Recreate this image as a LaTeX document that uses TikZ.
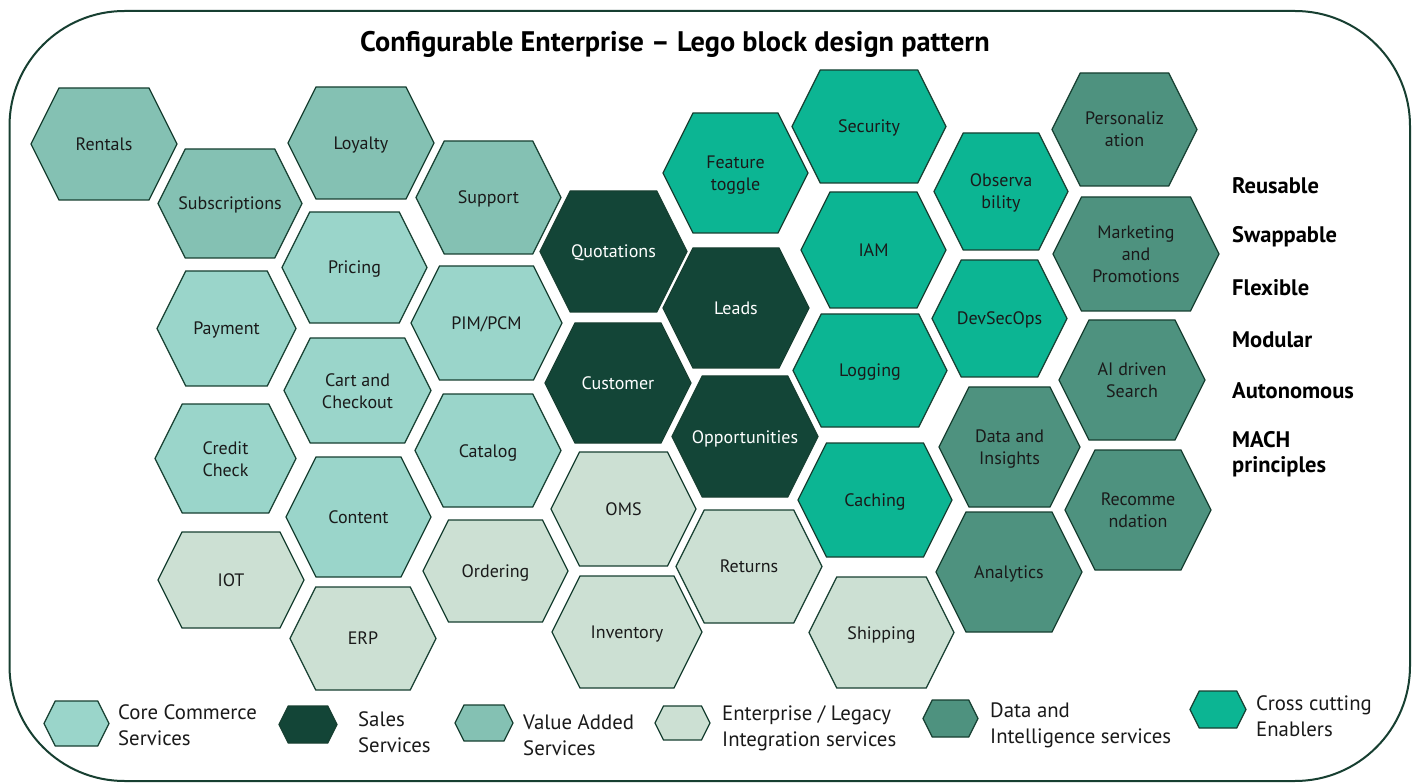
\documentclass[tikz,border=0pt]{standalone}
\usepackage{fontspec}
\setmainfont{PT Sans}
\definecolor{strk}{HTML}{173F31}
\definecolor{cva}{HTML}{84C1B3}
\definecolor{ccc}{HTML}{9AD5CA}
\definecolor{csal}{HTML}{134537}
\definecolor{cent}{HTML}{CCE0D3}
\definecolor{cdi}{HTML}{4E927F}
\definecolor{ccx}{HTML}{0CB593}
\definecolor{txt}{HTML}{1A1A1A}
\tikzset{
  hexshape/.style={draw=strk, line width=1.3pt, line join=miter},
  hextxt/.style={align=center, inner sep=0pt, yshift=-2pt, font=\fontsize{18}{22}\selectfont},
  sidetxt/.style={anchor=west, align=left, inner sep=0pt, font=\fontsize{22.5}{25}\selectfont\bfseries, text=black},
  legtxt/.style={anchor=west, align=left, inner sep=0pt, font=\fontsize{20.8}{26}\selectfont, text=txt},
}
% optional text colour, name, cx, cy, w, h, fill, text
\newcommand\hexcell[8][txt]{%
  \filldraw[hexshape, fill=#7]
    ({#3-#5/2},#4) -- ({#3-#5/2+#6/4},{#4-#6/2}) -- ({#3+#5/2-#6/4},{#4-#6/2}) --
    ({#3+#5/2},#4) -- ({#3+#5/2-#6/4},{#4+#6/2}) -- ({#3-#5/2+#6/4},{#4+#6/2}) -- cycle;
  \node[hextxt, text=#1] (#2) at (#3,#4) {#8\vphantom{g}};}
\begin{document}
\begin{tikzpicture}[x=1pt,y=-1pt]
\useasboundingbox (0,0) rectangle (1416,783);
\fill[white] (0,0) rectangle (1416,783);
\draw[strk, line width=2pt, rounded corners=115pt] (9.5,11) rectangle (1410,781);
\node[font=\fontsize{28.3}{31}\selectfont\bfseries, inner sep=0pt] (title) at (675,44) {Configurable Enterprise – Lego block design pattern};
% value added
\hexcell{rentals}{104}{144}{146}{112}{cva}{Rentals}
\hexcell{subs}{230}{203.5}{144}{109}{cva}{Subscriptions}
\hexcell{loyalty}{361}{143}{146}{112}{cva}{Loyalty}
\hexcell{support}{488.5}{197.5}{145}{113}{cva}{Support}
% core commerce
\hexcell{pricing}{354.5}{267.5}{145}{111}{ccc}{Pricing}
\hexcell{payment}{226.5}{328.5}{139}{115}{ccc}{Payment}
\hexcell{pim}{486.5}{323}{151}{114}{ccc}{PIM/PCM}
\hexcell{cart}{357.5}{390.5}{147}{105}{ccc}{Cart and\\Checkout}
\hexcell{credit}{225.5}{458.5}{141}{109}{ccc}{Credit\\Check}
\hexcell{catalog}{488}{450.5}{146}{113}{ccc}{Catalog}
\hexcell{content}{358.5}{517}{145}{120}{ccc}{Content}
% enterprise / legacy
\hexcell{iot}{231}{580}{146}{96}{cent}{IOT}
\hexcell{ordering}{495.5}{571}{145}{102}{cent}{Ordering}
\hexcell{erp}{363}{638.5}{146}{103}{cent}{ERP}
\hexcell{oms}{623.5}{509}{145}{114}{cent}{OMS}
\hexcell{returns}{749}{566.5}{146}{113}{cent}{Returns}
\hexcell{inventory}{627}{632}{150}{112}{cent}{Inventory}
\hexcell{shipping}{881.5}{632.5}{145}{111}{cent}{Shipping}
% sales
\hexcell[white]{quotations}{613.5}{251.5}{147}{121}{csal}{Quotations}
\hexcell[white]{leads}{736}{308}{146}{120}{csal}{Leads}
\hexcell[white]{customer}{618}{383}{146}{120}{csal}{Customer}
\hexcell[white]{opps}{745}{436.5}{146}{121}{csal}{Opportunities}
% cross cutting
\hexcell{feature}{735.5}{173}{145}{120}{ccx}{Feature\\toggle}
\hexcell{security}{869}{126.5}{154}{113}{ccx}{Security}
\hexcell{iam}{873.5}{250}{145}{116}{ccx}{IAM}
\hexcell{logging}{870}{370.5}{154}{113}{ccx}{Logging}
\hexcell{caching}{875}{500}{154}{114}{ccx}{Caching}
\hexcell{observ}{1001}{191.5}{134}{117}{ccx}{Observa\\bility}
\hexcell{devsecops}{999.5}{318.5}{135}{117}{ccx}{DevSecOps}
% data and intelligence
\hexcell{personal}{1124.5}{129.5}{145}{113}{cdi}{Personaliz\\ation}
\hexcell{marketing}{1136}{254}{166}{114}{cdi}{Marketing\\and\\Promotions}
\hexcell{aisearch}{1132}{380}{146}{120}{cdi}{AI driven\\Search}
\hexcell{datains}{1009.5}{447}{141}{120}{cdi}{Data and\\Insights}
\hexcell{recommend}{1138}{510}{146}{120}{cdi}{Recomme\\ndation}
\hexcell{analytics}{1009}{572}{146}{120}{cdi}{Analytics}
% side principles
\node[sidetxt] (reusable) at (1232,186) {Reusable};
\node[sidetxt] (swappable) at (1232,237) {Swappable};
\node[sidetxt] (flexible) at (1232,288) {Flexible};
\node[sidetxt] (modular) at (1232,340) {Modular};
\node[sidetxt] (autonomous) at (1232,391) {Autonomous};
\node[sidetxt] (mach) at (1232,454) {MACH\\principles};
% legend
\hexcell{lg1}{76.5}{723.5}{65}{45}{ccc}{}
\node[legtxt] (lt1) at (118,725) {Core Commerce\\Services};
\hexcell{lg2}{308}{724.5}{58}{37}{csal}{}
\node[legtxt] (lt2) at (358,732) {Sales\\Services};
\hexcell{lg3}{484}{723}{58}{36}{cva}{}
\node[legtxt] (lt3) at (523,735) {Value Added\\Services};
\hexcell{lg4}{682.5}{723}{55}{34}{cent}{}
\node[legtxt] (lt4) at (722,728) {Enterprise / Legacy\\Integration services};
\hexcell{lg5}{950.5}{718.5}{55}{37}{cdi}{}
\node[legtxt] (lt5) at (990,725) {Data and\\Intelligence services};
\hexcell{lg6}{1218}{709.5}{56}{37}{ccx}{}
\node[legtxt] (lt6) at (1256,716) {Cross cutting\\Enablers};
\end{tikzpicture}
\end{document}
